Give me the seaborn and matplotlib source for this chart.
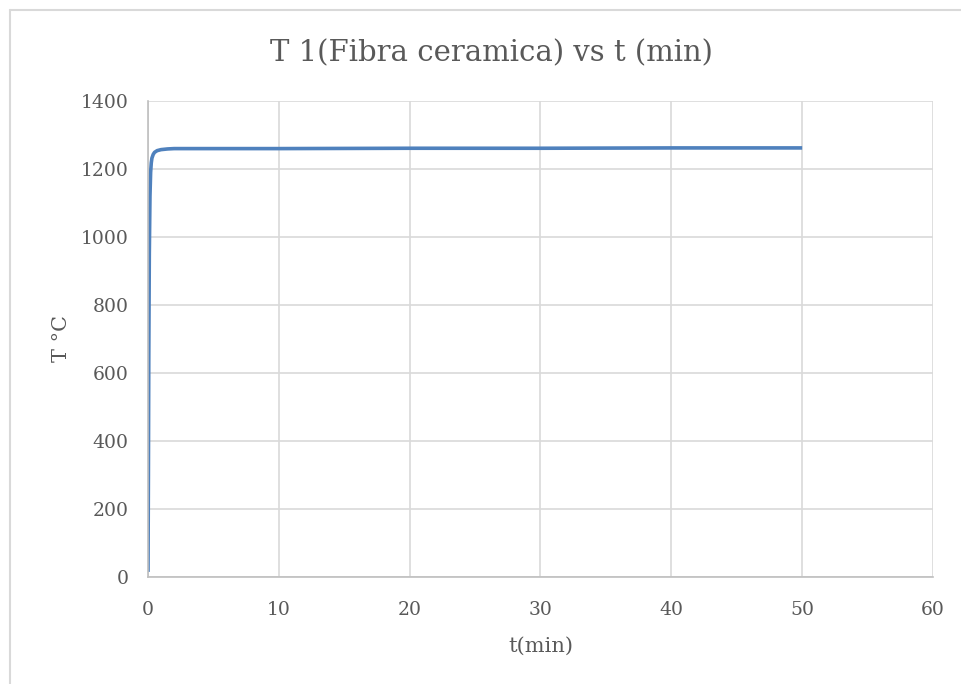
import matplotlib
matplotlib.use("Agg")
import matplotlib.pyplot as plt
from matplotlib.lines import Line2D
import seaborn as sns
import pandas as pd

# Temperature history of the ceramic fibre sample
t_min = [0, 0.03, 0.06, 0.1, 0.15, 0.2, 0.25, 0.3, 0.4, 0.5, 0.7, 1.0, 1.5, 2.0, 3.0, 5.0, 10.0, 20.0, 30.0, 40.0, 50.0]
temp_c = [15, 300, 650, 950, 1120, 1190, 1218, 1232, 1243, 1249, 1254, 1257, 1259, 1260, 1260, 1260, 1260, 1261, 1261, 1262, 1262]

x_ticks = [0, 10, 20, 30, 40, 50, 60]
y_ticks = [0, 200, 400, 600, 800, 1000, 1200, 1400]

df = pd.DataFrame({"t": t_min, "T": temp_c})

sns.set_style("white")
plt.rcParams["font.family"] = ["DejaVu Serif"]

text_color = "#595959"
grid_color = "#d9d9d9"

fig = plt.figure(figsize=(9.62, 6.84), dpi=100)
ax = fig.add_axes([148 / 962, 1 - 577 / 684, (933 - 148) / 962, (577 - 101) / 684])

sns.lineplot(data=df, x="t", y="T", ax=ax, color="#4f81bd", linewidth=2.6, solid_capstyle="butt")

ax.set_xlim(0, 60)
ax.set_ylim(0, 1400)
ax.set_xticks(x_ticks)
ax.set_yticks(y_ticks)
ax.grid(True, color=grid_color, linewidth=1.2)
ax.set_axisbelow(True)

for side in ["top", "right"]:
    ax.spines[side].set_visible(False)
for side in ["left", "bottom"]:
    ax.spines[side].set_color("#bfbfbf")
    ax.spines[side].set_linewidth(1.2)

ax.tick_params(axis="both", length=0, labelsize=13.5, labelcolor=text_color)
ax.tick_params(axis="x", pad=17)
ax.tick_params(axis="y", pad=14)
ax.set_xlabel("t(min)", fontsize=15, color=text_color, labelpad=13)
ax.set_ylabel("T °C", fontsize=15, color=text_color, labelpad=7)

fig.text(491 / 962, 1 - 53 / 684, "T 1(Fibra ceramica) vs t (min)", ha="center", va="center",
         fontsize=21, color=text_color)

# Chart area frame (left and top edges)
fig.add_artist(Line2D([9.5 / 962, 9.5 / 962], [0, 1 - 9.5 / 684], transform=fig.transFigure,
                      color=grid_color, linewidth=1.5))
fig.add_artist(Line2D([9.5 / 962, 1], [1 - 9.5 / 684, 1 - 9.5 / 684], transform=fig.transFigure,
                      color=grid_color, linewidth=1.5))

fig.savefig("out.png", dpi=100)
